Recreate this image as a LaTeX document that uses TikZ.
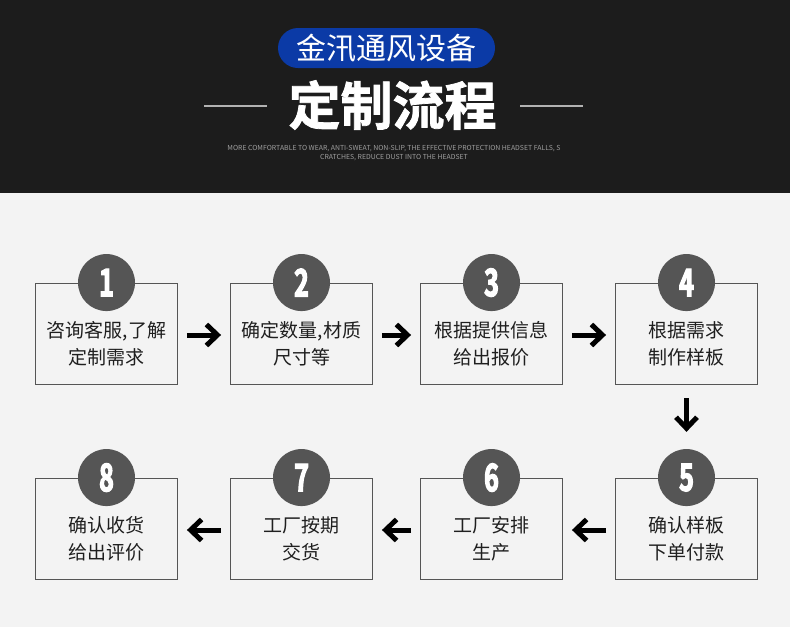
\documentclass[tikz,border=0pt]{standalone}
\usepackage{fontspec}
\setmainfont{Noto Sans CJK SC}[BoldFont={Noto Sans CJK SC Bold}]
\newfontfamily\numfont[FakeStretch=0.66,FakeBold=3]{Noto Sans CJK SC Bold}
\newfontfamily\headfont[FakeBold=1.5]{Noto Sans CJK SC Bold}
\usepackage{xcolor}
\usetikzlibrary{arrows.meta,positioning}
\definecolor{band}{HTML}{1C1C1C}
\definecolor{paper}{HTML}{F3F3F3}
\definecolor{pill}{HTML}{0B3AA6}
\definecolor{dot}{HTML}{555555}

\begin{document}
\begin{tikzpicture}[x=1pt,y=-1pt,
  stepbox/.style={draw=dot,line width=0.9pt,minimum width=142pt,minimum height=101pt,inner sep=0pt},
  steptext/.style={align=center,font=\fontsize{19}{27}\selectfont,text=black!88},
  numdot/.style={circle,fill=dot,minimum size=57pt,inner sep=0pt,text=white,
                 font=\numfont\fontsize{38}{38}\selectfont},
  go/.style={line width=5pt,-{Straight Barb[length=11pt,width=21pt]}},
  rule/.style={line width=1.6pt,gray!60}]
  \useasboundingbox (0,0) rectangle (790,627);
  \fill[paper] (0,0) rectangle (790,627);
  \fill[band] (0,0) rectangle (790,193);
  \node[fill=pill,rounded corners=20pt,minimum width=217pt,minimum height=40pt,inner sep=0pt,
        text=white,font=\fontsize{30}{30}\selectfont] (brand) at (386.5,48) {金汛通风设备};
  \node[text=white,font=\headfont\fontsize{52}{52}\selectfont] (head) at (392.5,105) {定制流程};
  \draw[rule] (204,106) -- (267,106);
  \draw[rule] (520,106) -- (583,106);
  \node[text=gray!75,align=center,font=\fontsize{6.9}{9}\selectfont] (tag) at (394,153.5)
    {MORE COMFORTABLE TO WEAR, ANTI-SWEAT, NON-SLIP, THE EFFECTIVE PROTECTION HEADSET FALLS, S\\
     CRATCHES, REDUCE DUST INTO THE HEADSET};

  \node[stepbox] (s1) at (106.5,333.5) {};
  \node[stepbox] (s2) at (301.5,333.5) {};
  \node[stepbox] (s3) at (491.5,333.5) {};
  \node[stepbox] (s4) at (686.5,333.5) {};
  \node[stepbox] (s5) at (686.5,528.5) {};
  \node[stepbox] (s6) at (491.5,528.5) {};
  \node[stepbox] (s7) at (301.5,528.5) {};
  \node[stepbox] (s8) at (106.5,528.5) {};

  \node[steptext] (t1) at ([yshift=-10pt]s1.center) {咨询客服,了解\\定制需求};
  \node[steptext] (t2) at ([yshift=-10pt]s2.center) {确定数量,材质\\尺寸等};
  \node[steptext] (t3) at ([yshift=-10pt]s3.center) {根据提供信息\\给出报价};
  \node[steptext] (t4) at ([yshift=-10pt]s4.center) {根据需求\\制作样板};
  \node[steptext] (t5) at ([yshift=-10pt]s5.center) {确认样板\\下单付款};
  \node[steptext] (t6) at ([yshift=-10pt]s6.center) {工厂安排\\生产};
  \node[steptext] (t7) at ([yshift=-10pt]s7.center) {工厂按期\\交货};
  \node[steptext] (t8) at ([yshift=-10pt]s8.center) {确认收货\\给出评价};

  \foreach \i in {1,...,8} \node[numdot] (n\i) at (s\i.north) {\i};

  \foreach \a/\b in {s1/s2,s2/s3,s3/s4}
    \draw[go,shorten <=9pt,shorten >=9pt] ([yshift=-1.5pt]\a.east) -- ([yshift=-1.5pt]\b.west);
  \foreach \a/\b in {s5/s6,s6/s7,s7/s8}
    \draw[go,shorten <=9pt,shorten >=9pt] ([yshift=-1.5pt]\a.west) -- ([yshift=-1.5pt]\b.east);
  \draw[go,shorten <=14pt,shorten >=17pt] (s4.south) -- (n5.north);
\end{tikzpicture}
\end{document}
